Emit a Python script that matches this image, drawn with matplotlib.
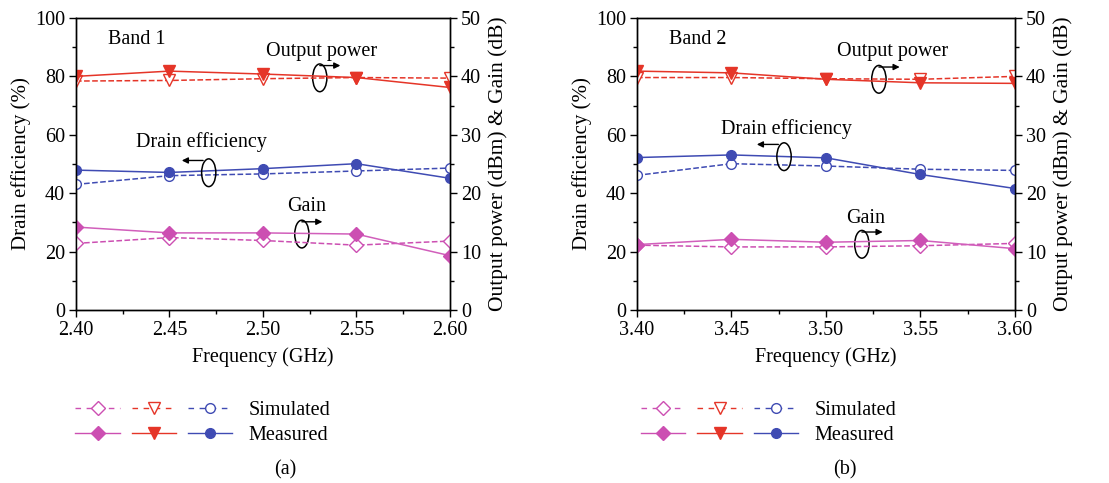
import numpy as np
import matplotlib.pyplot as plt
from matplotlib.patches import Ellipse
from matplotlib.lines import Line2D
from matplotlib.legend_handler import HandlerTuple

plt.rcParams['font.family'] = ['Liberation Serif', 'DejaVu Serif']
plt.rcParams['font.size'] = 14.5

# band 1 (2.4-2.6 GHz)
freq1 = [2.40, 2.45, 2.50, 2.55, 2.60]
pout_meas1 = [40.0, 40.9, 40.4, 39.8, 38.1]
pout_sim1 = [39.2, 39.3, 39.6, 39.8, 39.7]
de_meas1 = [47.9, 47.1, 48.4, 50.1, 45.1]
de_sim1 = [43.0, 46.0, 46.6, 47.6, 48.6]
gain_meas1 = [14.2, 13.2, 13.2, 13.0, 9.3]
gain_sim1 = [11.4, 12.4, 11.9, 11.1, 11.8]

# band 2 (3.4-3.6 GHz)
freq2 = [3.40, 3.45, 3.50, 3.55, 3.60]
pout_meas2 = [40.9, 40.6, 39.5, 38.9, 38.8]
pout_sim2 = [39.8, 39.8, 39.6, 39.5, 40.0]
de_meas2 = [52.2, 53.1, 52.1, 46.4, 41.6]
de_sim2 = [46.1, 50.1, 49.3, 48.2, 47.8]
gain_meas2 = [11.2, 12.1, 11.6, 11.9, 10.5]
gain_sim2 = [11.1, 10.8, 10.8, 11.0, 11.4]

c_gain = '#cc4fb2'
c_gain_m = '#d15fbb'
c_pout = '#e53528'
c_de = '#3f4bb3'

fig = plt.figure(figsize=(11.09, 4.83), dpi=100)


def panel(rect, f, pm, ps, dm, ds, gm, gs, band, notes):
    ax = fig.add_axes(rect)
    ax2 = ax.twinx()
    x0, x1 = f[0], f[-1]
    span = x1 - x0
    # drain efficiency on left axis
    ax.plot(f, ds, '--', color=c_de, lw=1.1, marker='o', mfc='white', mec=c_de, ms=7, zorder=3)
    ax.plot(f, dm, '-', color=c_de, lw=1.1, marker='o', mfc=c_de, mec=c_de, ms=7, zorder=4)
    # output power and gain on right axis
    ax2.plot(f, ps, '--', color=c_pout, lw=1.1, marker='v', mfc='white', mec=c_pout, ms=9)
    ax2.plot(f, pm, '-', color=c_pout, lw=1.1, marker='v', mfc=c_pout, mec=c_pout, ms=9)
    ax2.plot(f, gs, '--', color=c_gain, lw=1.1, marker='D', mfc='white', mec=c_gain, ms=7)
    ax2.plot(f, gm, '-', color=c_gain_m, lw=1.1, marker='D', mfc=c_gain, mec=c_gain, ms=7)

    ax.set_xlim(x0, x1)
    ax.set_ylim(0, 100)
    ax2.set_ylim(0, 50)
    ax.set_xticks(np.linspace(x0, x1, 5))
    ax.set_xticks(np.linspace(x0, x1, 9), minor=True)
    ax.set_xticklabels(['%.2f' % v for v in np.linspace(x0, x1, 5)])
    ax.set_yticks(np.arange(0, 101, 20))
    ax.set_yticks(np.arange(0, 101, 10), minor=True)
    ax2.set_yticks(np.arange(0, 51, 10))
    ax2.set_yticks(np.arange(0, 51, 5), minor=True)
    for a in (ax, ax2):
        a.tick_params(which='major', length=5, width=1, direction='out', pad=3)
        a.tick_params(which='minor', length=3, width=1, direction='out')
        for s in a.spines.values():
            s.set_linewidth(1.0)
    ax.set_xlabel('Frequency (GHz)', labelpad=5)
    ax.set_ylabel('Drain efficiency (%)', labelpad=3, fontsize=15)
    ax2.set_ylabel('Output power (dBm) & Gain (dB)', labelpad=5, fontsize=15.5)

    ax.text(x0 + 0.085 * span, 92.5, band, va='center', ha='left')

    # curve labels with ellipse and direction arrow
    for txt, tx, ty, ex, ey, direction in notes:
        ax.text(x0 + tx * span, ty, txt, ha='left', va='center')
        ax.add_patch(Ellipse((x0 + ex * span, ey), 0.038 * span, 9.5,
                             fill=False, lw=1.1, ec='black', zorder=6))
        ys = ey + 4.2
        xs = x0 + ex * span
        if direction > 0:
            xe = xs + 0.055 * span
        else:
            xs = xs - 0.015 * span
            xe = xs - 0.057 * span
        ax.annotate('', xy=(xe, ys), xytext=(xs, ys),
                    arrowprops=dict(arrowstyle='-|>', color='black', lw=1.0,
                                    mutation_scale=9, shrinkA=0, shrinkB=0))
    return ax


ax_a = panel([0.0685, 0.3582, 0.3372, 0.6046], freq1, pout_meas1, pout_sim1,
             de_meas1, de_sim1, gain_meas1, gain_sim1, 'Band 1',
             [('Output power', 0.509, 88.5, 0.652, 79.5, 1),
              ('Drain efficiency', 0.16, 57.5, 0.355, 47.0, -1),
              ('Gain', 0.564, 35.5, 0.604, 26.0, 1)])
ax_b = panel([0.5744, 0.3582, 0.3408, 0.6046], freq2, pout_meas2, pout_sim2,
             de_meas2, de_sim2, gain_meas2, gain_sim2, 'Band 2',
             [('Output power', 0.529, 88.5, 0.640, 79.0, 1),
              ('Drain efficiency', 0.222, 62.0, 0.389, 52.5, -1),
              ('Gain', 0.553, 31.5, 0.595, 22.5, 1)])

# legends below each panel
for lx, tag, tx in [(0.068, '(a)', 0.257), (0.578, '(b)', 0.762)]:
    sim = tuple(Line2D([], [], ls='--', color=c, marker=m, mfc='white', mec=c, ms=s, lw=1.0,
                       dashes=(4, 4))
                for c, m, s in [(c_gain, 'D', 7), (c_pout, 'v', 9), (c_de, 'o', 7)])
    meas = tuple(Line2D([], [], ls='-', color=c, marker=m, mfc=c, mec=c, ms=s, lw=1.0)
                 for c, m, s in [(c_gain, 'D', 7), (c_pout, 'v', 9), (c_de, 'o', 7)])
    fig.legend([sim, meas], ['Simulated', 'Measured'],
               handler_map={tuple: HandlerTuple(ndivide=None, pad=0.6)},
               loc='center left', bbox_to_anchor=(lx, 0.125), frameon=False,
               handlelength=7.8, handletextpad=0.8, labelspacing=0.3,
               borderaxespad=0, borderpad=0)
    fig.text(tx, 0.027, tag, ha='center', va='center')

fig.savefig('out.png', dpi=100)
